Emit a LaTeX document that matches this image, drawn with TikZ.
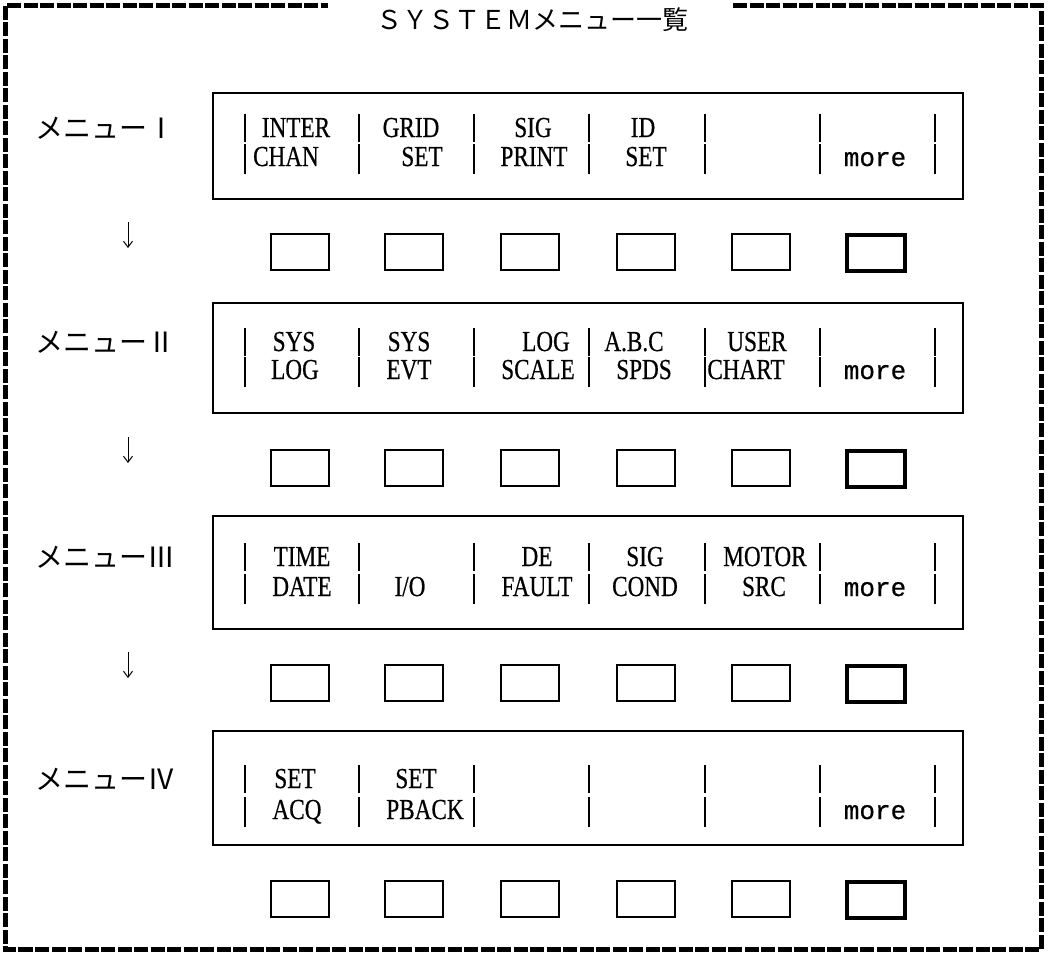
\documentclass[tikz,border=0pt]{standalone}
\usepackage{fontspec}
\usepackage{tikz}
\usetikzlibrary{arrows.meta,positioning}
\newfontfamily\jpfont{Noto Sans CJK JP}
\newfontfamily\keyfont[FakeStretch=0.8,FakeBold=0.5]{Liberation Serif}
\newfontfamily\morefont[FakeBold=0.5]{Liberation Mono}

\begin{document}
\begin{tikzpicture}[x=1pt,y=-1pt,>={Straight Barb[length=6pt,width=9pt]},
    hatchframe/.style={line width=5pt,dash pattern=on 14pt off 2.5pt},
    menubox/.style={draw,line width=1.5pt,minimum width=750pt,inner sep=0pt},
    softkey/.style={draw,line width=1.5pt,minimum width=58pt,minimum height=36pt,inner sep=0pt},
    morekey/.style={softkey,line width=4pt},
    bar/.style={line width=1.4pt},
    lbl/.style={anchor=base,inner sep=0pt,font=\keyfont\fontsize{29}{29}\selectfont},
    morelbl/.style={anchor=base,inner sep=0pt,font=\morefont\fontsize{26}{26}\selectfont},
    jp/.style={inner sep=0pt,font=\jpfont\fontsize{26}{26}\selectfont},
    jpname/.style={jp,font=\jpfont\fontsize{28}{28}\selectfont}]
  \useasboundingbox (0,0) rectangle (1052,956);
  % title and frame
  \node[jp] (ttl) at (532,20) {ＳＹＳＴＥＭメニュー一覧};
  \coordinate (fl) at (328,5);
  \coordinate (fr) at (733,5);
  \draw[hatchframe] (fr) -- (1041,5) -- (1041,949) -- (5,949) -- (5,5) -- (fl);
  % menus
  \foreach \top/\bot/\ba/\bb/\kt/\num [count=\r] in
      {93/199/137/166/233/Ⅰ, 303/413/351/379/449/Ⅱ, 516/629/566/596/664/Ⅲ, 731/845/788/819/880/Ⅳ}{
    \node[menubox,minimum height={\bot-\top}] (box\r) at (588,{(\top+\bot)/2}) {};
    \node[jpname] (name\r) at (105,\ba-9) {メニュー\num};
    \foreach \bx in {245,359,474,589,705,820,935}{
      \draw[bar] (\bx,\ba-23) -- (\bx,\ba+5);
      \draw[bar] (\bx,\bb-22) -- (\bx,\bb+8);
    }
    \node[morelbl] (more\r) at (875,\bb) {more};
    \foreach \kx [count=\k] in {300,414,530,646,761}
      \node[softkey,anchor=north] (key\r-\k) at (\kx,\kt) {};
    \node[morekey,anchor=north] (key\r-6) at (876,\kt) {};
  }
  \foreach \x/\y/\s [count=\n] in {296/137/INTER, 411/137/GRID, 533/137/SIG, 643/137/ID,
      286/166/CHAN, 422/166/SET, 534/166/PRINT, 646/166/SET}
    \node[lbl] (ta\n) at (\x,\y) {\s};
  \foreach \x/\y/\s [count=\n] in {294/351/SYS, 409/351/SYS, 546/351/LOG, 634/351/A.B.C, 757/351/USER,
      295/379/LOG, 409/379/EVT, 538/379/SCALE, 644/379/SPDS, 746/379/CHART}
    \node[lbl] (tb\n) at (\x,\y) {\s};
  \foreach \x/\y/\s [count=\n] in {302/566/TIME, 537/566/DE, 645/566/SIG, 765/566/MOTOR,
      302/596/DATE, 410/596/{I/O}, 537/596/FAULT, 645/596/COND, 764/596/SRC}
    \node[lbl] (tc\n) at (\x,\y) {\s};
  \foreach \x/\y/\s [count=\n] in {295/788/SET, 416/788/SET, 297/819/ACQ, 425/819/PBACK}
    \node[lbl] (td\n) at (\x,\y) {\s};
  % arrows between menus
  \foreach \y [count=\n] in {235,450,665}{
    \coordinate (d\n) at (128,\y-13);
    \coordinate (e\n) at (128,\y+13);
    \draw[->,line width=1pt] (d\n) -- (e\n);
  }
\end{tikzpicture}
\end{document}
